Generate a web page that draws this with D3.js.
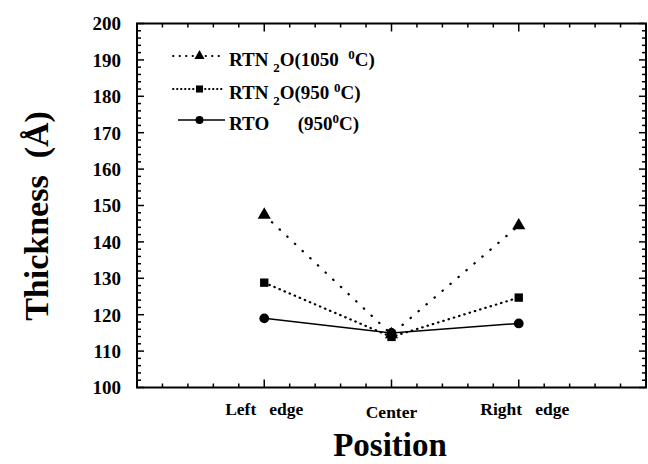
<!DOCTYPE html>
<html>
<head>
<meta charset="utf-8">
<script src="https://d3js.org/d3.v7.min.js"></script>
<style>
html,body{margin:0;padding:0;background:#fff;}
svg{display:block;}
</style>
</head>
<body>
<svg id="chart" width="648" height="464"></svg>
<script>
const categories = ["Left   edge", "Center", "Right   edge"];
const categoryPos = [1, 2, 3];
const rtn2o1050 = [147.4, 114.6, 144.5];
const rtn2o950 = [128.8, 113.9, 124.7];
const rto950 = [119.0, 115.0, 117.6];
const yTicks = [100, 110, 120, 130, 140, 150, 160, 170, 180, 190, 200];

const FONT = "'Liberation Serif', 'DejaVu Serif', 'Times New Roman', Times, serif";

const svg = d3.select("#chart")
  .attr("font-family", FONT)
  .attr("font-weight", "bold");
const x = d3.scaleLinear().domain([0, 4]).range([137, 646]);
const y = d3.scaleLinear().domain([100, 200]).range([387.5, 23.5]);

const g = svg.append("g");

// Frame
g.append("rect")
  .attr("x", x(0)).attr("y", y(200))
  .attr("width", x(4) - x(0)).attr("height", y(100) - y(200))
  .attr("fill", "none").attr("stroke", "#000").attr("stroke-width", 2);

// y ticks (minor every 2, major every 10), both sides inward
const yMinor = d3.range(100, 200.01, 2);
yMinor.forEach(v => {
  const major = Math.abs(v % 10) < 1e-6;
  const len = major ? 7 : 4;
  g.append("line").attr("x1", x(0)).attr("x2", x(0) + len)
    .attr("y1", y(v)).attr("y2", y(v)).attr("stroke", "#000").attr("stroke-width", 1.5);
  g.append("line").attr("x1", x(4)).attr("x2", x(4) - len)
    .attr("y1", y(v)).attr("y2", y(v)).attr("stroke", "#000").attr("stroke-width", 1.5);
});

// x ticks (minor every 0.2, major at integers), top & bottom inward
const xMinor = d3.range(0, 4.001, 0.2);
xMinor.forEach(v => {
  const major = Math.abs(v - Math.round(v)) < 1e-6;
  const len = major ? 8 : 4;
  g.append("line").attr("x1", x(v)).attr("x2", x(v))
    .attr("y1", y(100)).attr("y2", y(100) - len).attr("stroke", "#000").attr("stroke-width", 1.5);
  g.append("line").attr("x1", x(v)).attr("x2", x(v))
    .attr("y1", y(200)).attr("y2", y(200) + len).attr("stroke", "#000").attr("stroke-width", 1.5);
});

// y tick labels
g.selectAll(".ylab").data(yTicks).enter().append("text")
  .attr("x", 121).attr("y", d => y(d))
  .attr("dy", "0.36em")
  .attr("text-anchor", "end")
  .attr("font-size", 19)
  .text(d => d);

// x category labels
g.selectAll(".xlab").data(categories).enter().append("text")
  .attr("x", (d, i) => x(categoryPos[i]) + (i === 2 ? 6 : 0))
  .attr("y", (d, i) => i === 1 ? 418 : 414.5)
  .attr("text-anchor", "middle")
  .attr("font-size", 17.5)
  .attr("xml:space", "preserve")
  .style("white-space", "pre")
  .text(d => d);

// axis titles
svg.append("text")
  .attr("x", 390).attr("y", 456)
  .attr("text-anchor", "middle")
  .attr("font-size", 33)
  .text("Position");

svg.append("text")
  .attr("transform", "translate(48,216) rotate(-90)")
  .attr("text-anchor", "middle")
  .attr("font-size", 34)
  .attr("xml:space", "preserve")
  .style("white-space", "pre")
  .text("Thickness  (Å)");

// series
const series = [
  { name: "1050", values: rtn2o1050, dash: "0.5,10", shape: d3.symbolTriangle, size: 75 },
  { name: "950n", values: rtn2o950, dash: "0.5,5", shape: d3.symbolSquare, size: 70 },
  { name: "rto", values: rto950, dash: null, shape: d3.symbolCircle, size: 75 }
];

const line = d3.line().x((d, i) => x(categoryPos[i])).y(d => y(d));

series.forEach(s => {
  const p = g.append("path").datum(s.values)
    .attr("d", line)
    .attr("fill", "none").attr("stroke", "#000")
    .attr("stroke-width", s.dash ? 2.2 : 1.5);
  if (s.dash) p.attr("stroke-dasharray", s.dash).attr("stroke-linecap", "round");
});
series.forEach(s => {
  g.selectAll(null).data(s.values).enter().append("path")
    .attr("d", d3.symbol().type(s.shape).size(s.size))
    .attr("transform", (d, i) => `translate(${x(categoryPos[i])},${y(d)})`)
    .attr("fill", "#000");
});

// legend
const legendRows = [
  { y: 56, dash: "0.5,6", shape: d3.symbolTriangle, size: 45, x1: 173, x2: 224 },
  { y: 89, dash: "0.5,3.5", shape: d3.symbolSquare, size: 50, x1: 173, x2: 224 },
  { y: 120, dash: null, shape: d3.symbolCircle, size: 50, x1: 178, x2: 225 }
];
legendRows.forEach(r => {
  const l = svg.append("line").attr("x1", r.x1).attr("x2", r.x2)
    .attr("y1", r.y).attr("y2", r.y).attr("stroke", "#000")
    .attr("stroke-width", r.dash ? 1.8 : 1.5);
  if (r.dash) l.attr("stroke-dasharray", r.dash).attr("stroke-linecap", "round");
  svg.append("path").attr("d", d3.symbol().type(r.shape).size(r.size))
    .attr("transform", `translate(199.5,${r.y})`).attr("fill", "#000");
});

function legendText(yb, parts) {
  const t = svg.append("text").attr("x", 229).attr("y", yb).attr("font-size", 19)
    .attr("xml:space", "preserve").style("white-space", "pre");
  parts.forEach(p => {
    const ts = t.append("tspan").text(p.t);
    if (p.sub) ts.attr("font-size", 13).attr("dy", 6);
    if (p.sup) ts.attr("font-size", 13).attr("dy", p.dy);
    if (p.back) ts.attr("dy", p.back);
  });
}
legendText(66, [{ t: "RTN " }, { t: "2", sub: true }, { t: "O(1050  ", back: -6 }, { t: "0", sup: true, dy: -7 }, { t: "C)", back: 7 }]);
legendText(98.5, [{ t: "RTN " }, { t: "2", sub: true }, { t: "O(950 ", back: -6 }, { t: "0", sup: true, dy: -7 }, { t: "C)", back: 7 }]);
legendText(130, [{ t: "RTO      (950" }, { t: "0", sup: true, dy: -7 }, { t: "C)", back: 7 }]);
</script>
</body>
</html>
